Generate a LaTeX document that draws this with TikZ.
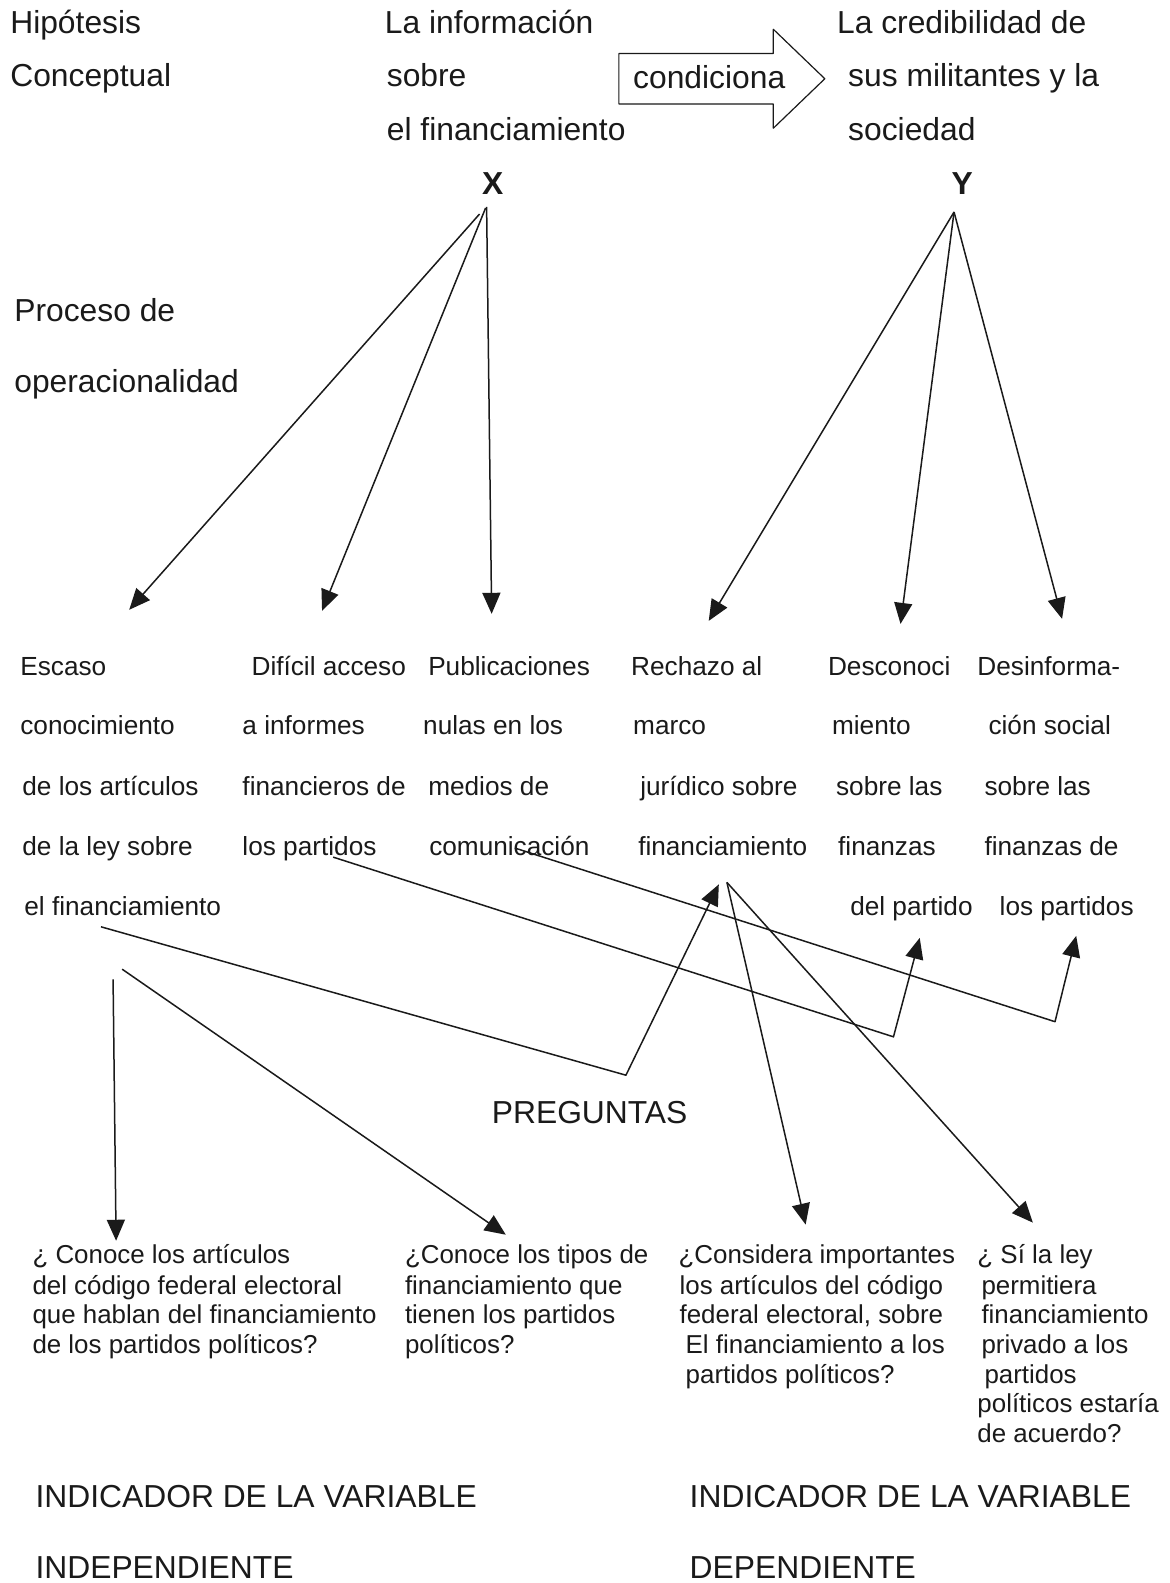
\documentclass[tikz,border=0pt]{standalone}
\usepackage{fontspec}
\setmainfont{Liberation Sans}
\usetikzlibrary{arrows.meta}
\definecolor{ink}{HTML}{1A1A1A}
\tikzset{
  big/.style={font=\fontsize{31.8}{36}\selectfont, anchor=base west, inner sep=0pt, text=ink},
  bigc/.style={font=\fontsize{31.8}{36}\selectfont\bfseries, anchor=base, inner sep=0pt, text=ink},
  mid/.style={font=\fontsize{26.2}{30}\selectfont, anchor=base west, inner sep=0pt, text=ink},
  qst/.style={font=\fontsize{25.9}{30}\selectfont, anchor=base west, inner sep=0pt, text=ink},
  conn/.style={line width=1.5pt, draw=ink, line join=round},
  arr/.style={conn, -{Triangle[length=21pt,width=18pt]}},
}
\begin{document}
\begin{tikzpicture}[x=1.0095pt,y=-1.0095pt]
\useasboundingbox (0,0) rectangle (1158,1568);
\fill[white] (0,0) rectangle (1158,1568);

% top
\node[big] (hip1) at (10,33) {Hipótesis};
\node[big] (hip2) at (10,86) {Conceptual};
\node[big] (xa) at (381,33) {La información};
\node[big] (xb) at (383,86) {sobre};
\node[big] (xc) at (383,139) {el financiamiento};
\node[big] (ya) at (829,33) {La credibilidad de};
\node[big] (yb) at (840,86) {sus militantes y la};
\node[big] (yc) at (840,139) {sociedad};
\draw[conn, line width=1.2pt] (613,53) -- (766,53) -- (766,29) -- (817,78) -- (766,127) -- (766,103) -- (613,103) -- cycle;
\node[big] (cond) at (627,88) {condiciona};
\node[bigc] (X) at (488,193) {X};
\node[bigc] (Y) at (953,193) {Y};
\node[big] (proc1) at (14,318) {Proceso de};
\node[big] (proc2) at (14,389) {operacionalidad};

% middle labels
\node[mid] (c1a) at (20,669) {Escaso};
\node[mid] (c1b) at (20,728) {conocimiento};
\node[mid] (c1c) at (22,788) {de los artículos};
\node[mid] (c1d) at (22,847) {de la ley sobre};
\node[mid] (c1e) at (24,907) {el financiamiento};
\node[mid] (c2a) at (249,669) {Difícil acceso};
\node[mid] (c2b) at (240,728) {a informes};
\node[mid] (c2c) at (240,788) {financieros de};
\node[mid] (c2d) at (240,847) {los partidos};
\node[mid] (c3a) at (424,669) {Publicaciones};
\node[mid] (c3b) at (419,728) {nulas en los};
\node[mid] (c3c) at (424,788) {medios de};
\node[mid] (c3d) at (425,847) {comunicación};
\node[mid] (c4a) at (625,669) {Rechazo al};
\node[mid] (c4b) at (627,728) {marco};
\node[mid] (c4c) at (634,788) {jurídico sobre};
\node[mid] (c4d) at (632,847) {financiamiento};
\node[mid] (c5a) at (820,669) {Desconoci};
\node[mid] (c5b) at (824,728) {miento};
\node[mid] (c5c) at (828,788) {sobre las};
\node[mid] (c5d) at (830,847) {finanzas};
\node[mid] (c5e) at (842,907) {del partido};
\node[mid] (c6a) at (968,669) {Desinforma-};
\node[mid] (c6b) at (979,728) {ción social};
\node[mid] (c6c) at (975,788) {sobre las};
\node[mid] (c6d) at (975,847) {finanzas de};
\node[mid] (c6e) at (990,907) {los partidos};

\node[big] (preg) at (487,1113) {PREGUNTAS};

% questions
\node[qst] (q1a) at (32,1252) {¿ Conoce los artículos};
\node[qst] (q1b) at (32,1282) {del código federal electoral};
\node[qst] (q1c) at (32,1311) {que hablan del financiamiento};
\node[qst] (q1d) at (32,1341) {de los partidos políticos?};
\node[qst] (q2a) at (401,1252) {¿Conoce los tipos de};
\node[qst] (q2b) at (401,1282) {financiamiento que};
\node[qst] (q2c) at (401,1311) {tienen los partidos};
\node[qst] (q2d) at (401,1341) {políticos?};
\node[qst] (q3a) at (672,1252) {¿Considera importantes};
\node[qst] (q3b) at (673,1282) {los artículos del código};
\node[qst] (q3c) at (673,1311) {federal electoral, sobre};
\node[qst] (q3d) at (679,1341) {El financiamiento a los};
\node[qst] (q3e) at (679,1370) {partidos políticos?};
\node[qst] (q4a) at (968,1252) {¿ Sí la ley};
\node[qst] (q4b) at (972,1282) {permitiera};
\node[qst] (q4c) at (972,1311) {financiamiento};
\node[qst] (q4d) at (972,1341) {privado a los};
\node[qst] (q4e) at (975,1370) {partidos};
\node[qst] (q4f) at (968,1399) {políticos estaría};
\node[qst] (q4g) at (968,1429) {de acuerdo?};

% bottom
\node[big] (ind1) at (35,1493) {INDICADOR DE LA VARIABLE};
\node[big] (ind2) at (35,1564) {INDEPENDIENTE};
\node[big] (dep1) at (683,1493) {INDICADOR DE LA VARIABLE};
\node[big] (dep2) at (683,1564) {DEPENDIENTE};

% connector end points
\coordinate (xo1) at (475,212);
\coordinate (xo2) at (481,206);
\coordinate (xo3) at (482,205);
\coordinate (yo) at (945,210);
\coordinate (t11) at (128,604);
\coordinate (t12) at (319,605);
\coordinate (t13) at (487,608);
\coordinate (t21) at (702,615);
\coordinate (t22) at (892,618);
\coordinate (t23) at (1052,613);

\draw[arr] (xo1) -- (t11);
\draw[arr] (xo2) -- (t12);
\draw[arr] (xo3) -- (t13);
\draw[arr] (yo) -- (t21);
\draw[arr] (yo) -- (t22);
\draw[arr] (yo) -- (t23);

% lower connectors
\coordinate (sA) at (100,918);
\coordinate (kA) at (620,1065);
\coordinate (tA) at (712,876);
\coordinate (sB) at (121,960);
\coordinate (tB) at (501,1223);
\coordinate (sC) at (112,970);
\coordinate (tC) at (115,1229);
\coordinate (sD) at (330,849);
\coordinate (kD) at (885,1027);
\coordinate (tD) at (911,929);
\coordinate (sE) at (510,840);
\coordinate (kE) at (1045,1012);
\coordinate (tE) at (1066,927);
\coordinate (sF) at (720,874);
\coordinate (tF) at (798,1213);
\coordinate (tG) at (1023,1211);

\draw[arr] (sA) -- (kA) -- (tA);
\draw[arr] (sB) -- (tB);
\draw[arr] (sC) -- (tC);
\draw[arr] (sD) -- (kD) -- (tD);
\draw[arr] (sE) -- (kE) -- (tE);
\draw[arr] (sF) -- (tF);
\draw[arr] (sF) -- (tG);
\end{tikzpicture}
\end{document}
